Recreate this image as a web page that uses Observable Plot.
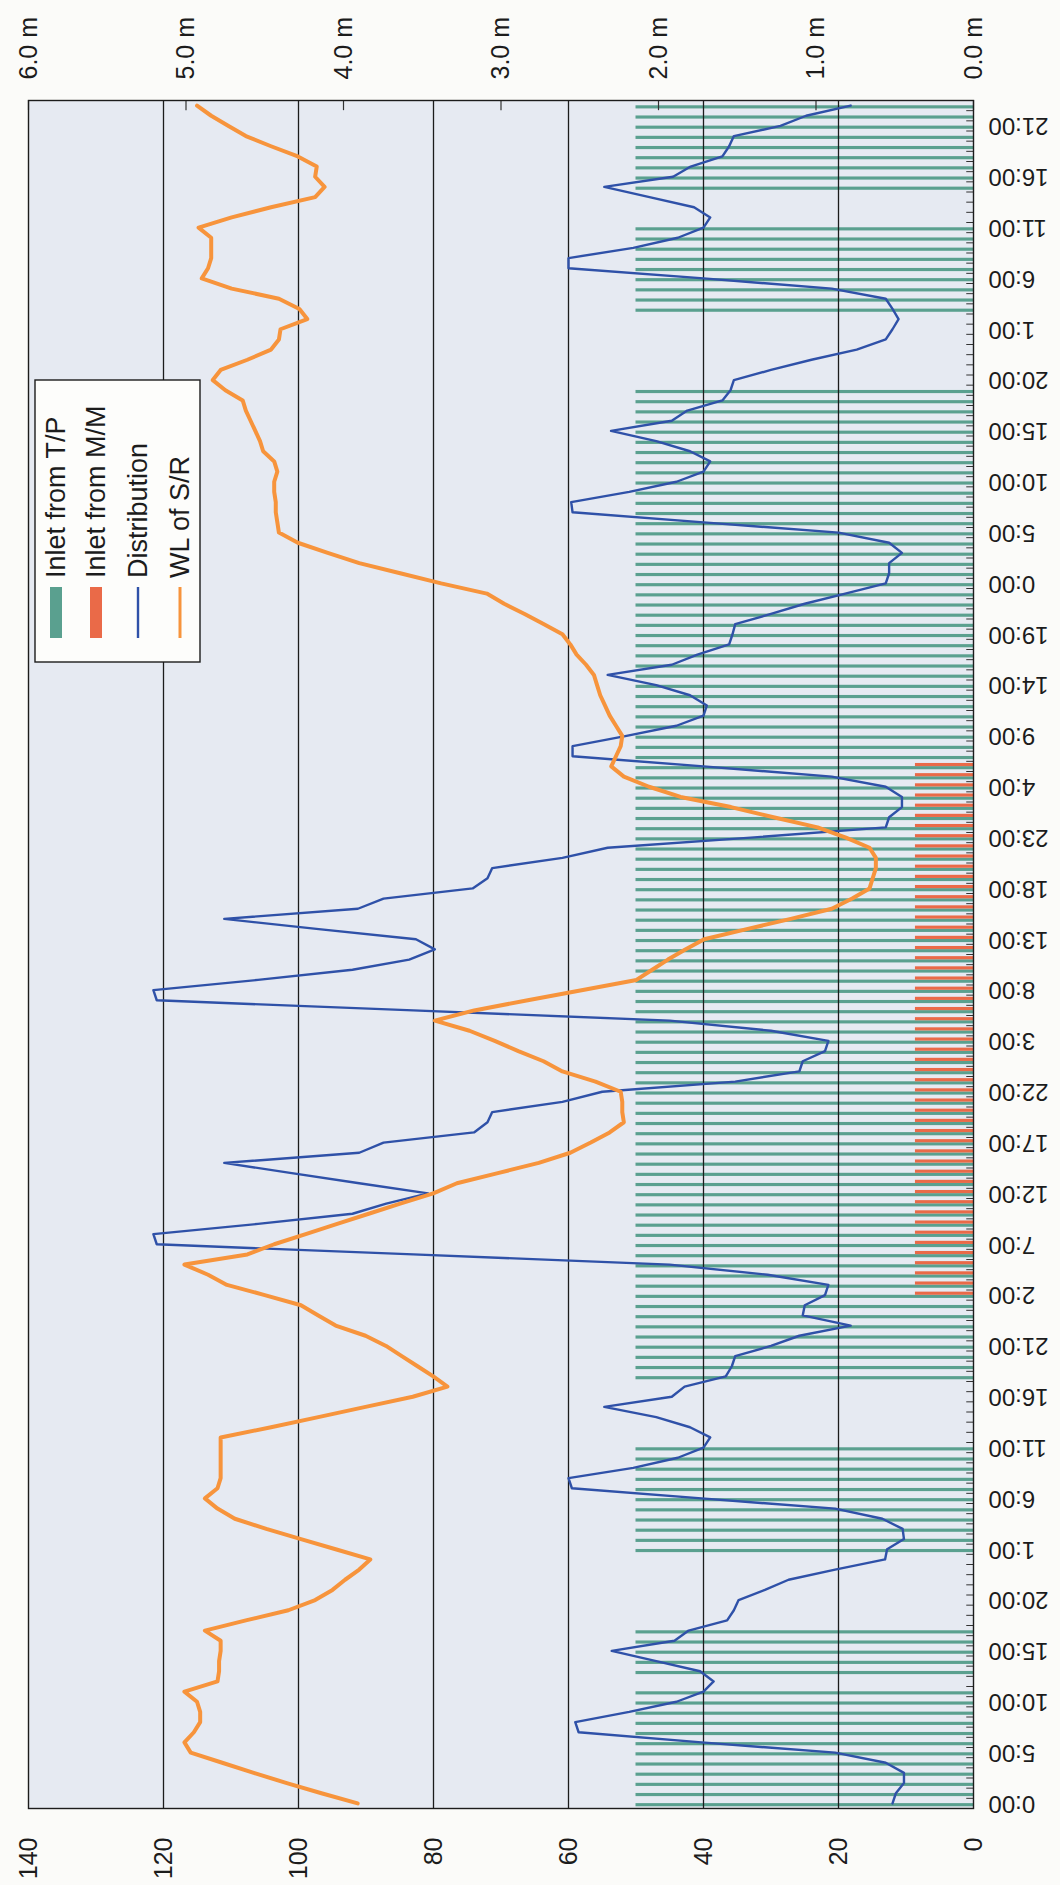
<!DOCTYPE html>
<html>
<head>
<meta charset="utf-8">
<script src="https://cdn.jsdelivr.net/npm/d3@7"></script>
<script src="https://cdn.jsdelivr.net/npm/@observablehq/plot@0.6"></script>
<style>
  html, body { margin: 0; padding: 0; background: #fbfbf9; }
  #chart svg { display: block; }
</style>
</head>
<body>
<div id="chart"></div>
<script>
// ---- data (hourly, 7 days = 168 hours) ----
const timeTickHours = [0,5,10,15,20,25,30,35,40,45,50,55,60,65,70,75,80,85,90,95,100,105,110,115,120,125,130,135,140,145,150,155,160,165];
const timeTickLabels = ["0:00","5:00","10:00","15:00","20:00","1:00","6:00","11:00","16:00","21:00","2:00","7:00","12:00","17:00","22:00","3:00","8:00","13:00","18:00","23:00","4:00","9:00","14:00","19:00","0:00","5:00","10:00","15:00","20:00","1:00","6:00","11:00","16:00","21:00"];
const leftTicks = [0,20,40,60,80,100,120,140];
const gridValues = [20,40,60,80,100,120];
const meterTicks = [0,1,2,3,4,5,6];

// Distribution (left axis units)
const distribution = [
  12,11.5,10.3,10.3,13,20.5,40.3,58.5,59,51,44,40,38.5,40.5,47,53.6,44.3,42.2,36.5,35.5,34.8,30.9,27.4,20.5,
  13.1,12.8,10.3,10.5,13.5,20.5,40.3,59.5,60,50.4,43.8,40,39,42,47,54.7,44.7,42.8,36.7,35.8,35.3,30,25.8,18.2,
  25.3,25,22,21.5,30.5,45,83,121,121.5,106,92,87,80.8,91,101,111,91,87.4,74,72,71.3,60.9,55,35.3,
  25.8,25.3,22,21.5,30,45,83,121,121.5,106,92,83.6,79.8,82.6,97,111,91.2,87.4,74.2,72,71.3,60.9,54.2,33,
  13,12.5,10.6,10.6,13,21,40,59.4,59.4,51.4,44,40,39.5,42,47,54.2,44.7,40.9,36.2,35.7,35.3,30,25,19,
  13,12.5,12.5,10.6,12.5,20,40,59.4,59.6,51,44,40,39,42,47,53.7,44.7,42.4,37.2,36,35.5,30,24,17.3,
  13,12,11.1,12,13,21,40,60,60,50.4,43.8,40,39,41.4,48,54.7,44.5,41.9,37.2,36.2,35.5,28.6,24.8,18.2
];

// WL of S/R (metres, right axis)
const wlSR = [
  3.91,4.14,4.36,4.57,4.77,4.97,5.01,4.95,4.91,4.91,4.93,5.01,4.80,4.79,4.79,4.78,4.78,4.88,4.62,4.35,4.18,4.07,3.99,3.90,
  3.83,4.05,4.27,4.49,4.69,4.80,4.88,4.80,4.78,4.78,4.78,4.78,4.78,4.46,4.16,3.86,3.56,3.34,3.43,3.53,3.63,3.73,3.86,4.05,
  4.16,4.27,4.50,4.74,4.86,5.01,4.61,4.44,4.24,4.04,3.84,3.64,3.43,3.28,3.02,2.76,2.56,2.43,2.31,2.22,2.23,2.23,2.24,2.40,
  2.61,2.73,2.89,3.04,3.20,3.42,3.17,2.83,2.48,2.14,2.04,1.94,1.83,1.71,1.44,1.16,0.90,0.77,0.66,0.64,0.62,0.62,0.66,0.81,
  0.99,1.27,1.54,1.86,2.06,2.22,2.30,2.27,2.24,2.23,2.27,2.31,2.34,2.37,2.39,2.41,2.46,2.52,2.56,2.61,2.73,2.85,2.98,3.09,
  3.38,3.64,3.90,4.10,4.29,4.41,4.42,4.43,4.43,4.44,4.44,4.42,4.44,4.51,4.53,4.56,4.59,4.62,4.64,4.75,4.83,4.78,4.61,4.46,
  4.41,4.40,4.23,4.28,4.41,4.71,4.90,4.86,4.84,4.84,4.84,4.92,4.71,4.46,4.18,4.12,4.18,4.17,4.29,4.46,4.62,4.73,4.84,4.93
];

// Inlet from T/P (left axis units)
const inletTP = [
  50,50,50,50,50,50,50,50,50,50,50,50,0,50,50,50,50,50,0,0,0,0,0,0,
  0,50,50,50,50,50,50,50,50,50,50,50,0,0,0,0,0,0,50,50,50,50,50,50,
  50,50,50,50,50,50,50,50,50,50,50,50,50,50,50,50,50,50,50,50,50,50,50,50,
  50,50,50,50,50,50,50,50,50,50,50,50,50,50,50,50,50,50,50,50,50,50,50,50,
  50,50,50,50,50,50,50,50,50,50,50,50,50,50,50,50,50,50,50,50,50,50,50,50,
  50,50,50,50,50,50,50,50,50,50,50,50,50,50,50,50,50,50,50,50,0,0,0,0,
  0,0,0,50,50,50,50,50,50,50,50,50,0,0,0,50,50,50,50,50,50,50,50,50
];

// Inlet from M/M (left axis units)
const inletMM = [
  0,0,0,0,0,0,0,0,0,0,0,0,0,0,0,0,0,0,0,0,0,0,0,0,
  0,0,0,0,0,0,0,0,0,0,0,0,0,0,0,0,0,0,0,0,0,0,0,0,
  0,0,8.6,8.6,8.6,8.6,8.6,8.6,8.6,8.6,8.6,8.6,8.6,8.6,8.6,8.6,8.6,8.6,8.6,8.6,8.6,8.6,8.6,8.6,
  8.6,8.6,8.6,8.6,8.6,8.6,8.6,8.6,8.6,8.6,8.6,8.6,8.6,8.6,8.6,8.6,8.6,8.6,8.6,8.6,8.6,8.6,8.6,8.6,
  8.6,8.6,8.6,8.6,8.6,8.6,8.6,0,0,0,0,0,0,0,0,0,0,0,0,0,0,0,0,0,
  0,0,0,0,0,0,0,0,0,0,0,0,0,0,0,0,0,0,0,0,0,0,0,0,
  0,0,0,0,0,0,0,0,0,0,0,0,0,0,0,0,0,0,0,0,0,0,0,0
];

const legendItems = ["Inlet from T/P", "Inlet from M/M", "Distribution", "WL of S/R"];

// ---- build ----
const M2U = 140 / 6; // 6.0 m on right axis = 140 on left axis
const rows = distribution.map((d, i) => ({h: i, dist: d, wl: wlSR[i], tp: inletTP[i], mm: inletMM[i]}));
const hourBoundaries = d3.range(-0.5, 168, 1);

const GREEN = "#5aa08f", RED = "#ea6a48", BLUE = "#2f51a8", ORANGE = "#f7943c", INK = "#1c1c1c";
const FONT = "'Liberation Sans', Arial, Helvetica, sans-serif";

const chart = Plot.plot({
  width: 1060,
  height: 1885,
  marginTop: 100,
  marginBottom: 77,
  marginLeft: 28,
  marginRight: 87,
  x: {domain: [140, 0], axis: null},
  y: {domain: [-0.5, 167.5], axis: null},
  style: {background: "#fbfbf9", fontFamily: FONT, color: INK},
  marks: [
    Plot.frame({fill: "#e6eaf2", stroke: "none"}),
    Plot.rect(rows.filter(d => d.tp > 0), {x1: 0, x2: "tp", y1: d => d.h - 0.33, y2: d => d.h - 0.02, fill: GREEN}),
    Plot.rect(rows.filter(d => d.mm > 0), {x1: 0, x2: "mm", y1: d => d.h - 0.02, y2: d => d.h + 0.29, fill: RED}),
    Plot.ruleX(gridValues, {stroke: INK, strokeWidth: 1.3}),
    Plot.ruleY(hourBoundaries, {x1: 0, x2: 1.0, stroke: "#333", strokeWidth: 1}),
    Plot.ruleX(meterTicks, {x: d => d * M2U, y1: 167.5, y2: 166.5, stroke: "#333", strokeWidth: 1.2}),
    Plot.line(rows, {x: "dist", y: "h", stroke: BLUE, strokeWidth: 2.4, strokeLinejoin: "round"}),
    Plot.line(rows, {x: d => d.wl * M2U, y: "h", stroke: ORANGE, strokeWidth: 4, strokeLinejoin: "round"}),
    Plot.frame({stroke: INK, strokeWidth: 1.4}),
    // left (value) axis labels, below the plot
    Plot.text(leftTicks, {x: d => d, y: -0.5, dy: 29, rotate: -90, textAnchor: "end", text: d => String(d), fontSize: 25, fill: INK}),
    // right (metre) axis labels, above the plot
    Plot.text(meterTicks, {x: d => d * M2U, y: 167.5, dy: -21, rotate: -90, textAnchor: "start", text: d => d.toFixed(1) + " m", fontSize: 25, fill: INK}),
    // time labels, right of plot
    Plot.text(timeTickHours, {x: 0, y: d => d, dx: 15, rotate: 180, textAnchor: "end", text: (d, i) => timeTickLabels[i], fontSize: 24, fill: INK})
  ]
});

document.getElementById("chart").appendChild(chart);

// ---- legend (inside plot area, rotated like the chart) ----
const svg = d3.select(chart);
const lg = svg.append("g").attr("font-family", FONT);
lg.append("rect").attr("x", 35).attr("y", 380).attr("width", 165).attr("height", 282)
  .attr("fill", "#fdfdfb").attr("stroke", INK).attr("stroke-width", 1.4);
const cols = [56, 96, 138, 180];
const kinds = [{t: "bar", c: GREEN}, {t: "bar", c: RED}, {t: "line", c: BLUE}, {t: "line", c: ORANGE}];
legendItems.forEach((label, i) => {
  const cx = cols[i];
  if (kinds[i].t === "bar") {
    lg.append("rect").attr("x", cx - 6).attr("y", 587).attr("width", 12).attr("height", 51).attr("fill", kinds[i].c);
  } else {
    lg.append("line").attr("x1", cx).attr("x2", cx).attr("y1", 587).attr("y2", 638)
      .attr("stroke", kinds[i].c).attr("stroke-width", i === 3 ? 3 : 2.4);
  }
  lg.append("text").attr("transform", `translate(${cx},578) rotate(-90)`)
    .attr("dy", "0.35em").attr("text-anchor", "start").attr("font-size", 27).attr("fill", INK)
    .text(label);
});
</script>
</body>
</html>
